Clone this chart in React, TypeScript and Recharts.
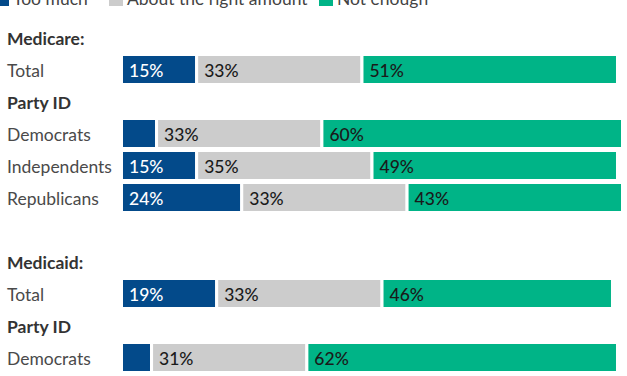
import React from 'react';
import { BarChart, Bar, XAxis, YAxis, LabelList } from 'recharts';

// rows top to bottom; header rows and the spacer row carry no bars
const rowLabels = ['Medicare:', 'Total', 'Party ID', 'Democrats', 'Independents', 'Republicans', '', 'Medicaid:', 'Total', 'Party ID', 'Democrats', 'Independents'];
const rowIsHeader = [true, false, true, false, false, false, false, true, false, true, false, false];

const tooMuch = [null, 15, null, 7, 15, 24, null, null, 19, null, 6, 19];
const aboutRight = [null, 33, null, 33, 35, 33, null, null, 33, null, 31, 37];
const notEnough = [null, 51, null, 60, 49, 43, null, null, 46, null, 62, 42];

const seriesNames = ['Too much', 'About the right amount', 'Not enough'];
const colors = ['#034a8a', '#cccccc', '#00b487'];

const data = rowLabels.map((label, i) => ({
  id: String(i),
  label,
  tooMuch: tooMuch[i],
  aboutRight: aboutRight[i],
  notEnough: notEnough[i],
}));

const FONT = 'Lato, "Open Sans", sans-serif';

const RowTick = (props: any) => {
  const { y, payload } = props;
  const i = Number(payload.value);
  const header = rowIsHeader[i];
  return (
    <text
      x={7}
      y={y}
      dy={1}
      dominantBaseline="central"
      textAnchor="start"
      fontFamily={FONT}
      fontSize={17.5}
      fontWeight={header ? 700 : 400}
      fill={header ? '#333' : '#4a4a4a'}
    >
      {rowLabels[i]}
    </text>
  );
};

const makeLabel = (color: string) => (props: any) => {
  const { x, y, height, value } = props;
  if (value == null || value < 10) return null;
  return (
    <text
      x={x + 7.5}
      y={y + height / 2}
      dy={1}
      dominantBaseline="central"
      fontFamily={FONT}
      fontSize={17.5}
      fontWeight={500}
      fill={color}
    >
      {value}%
    </text>
  );
};

const legendPos = [
  { sq: -5, tx: 13 },
  { sq: 109, tx: 127 },
  { sq: 319, tx: 337 },
];

function TopLegend() {
  return (
    <svg width={627} height={20} style={{ position: 'absolute', left: 0, top: 0 }}>
      {seriesNames.map((name, i) => (
        <g key={name}>
          <rect x={legendPos[i].sq} y={-8} width={14} height={14} fill={colors[i]} />
          <text x={legendPos[i].tx} y={5} fontFamily={FONT} fontSize={17.5} fill="#444">
            {name}
          </text>
        </g>
      ))}
    </svg>
  );
}

export default function App() {
  return (
    <div
      style={{
        position: 'absolute',
        left: 0,
        top: 0,
        width: 627,
        height: 376,
        overflow: 'hidden',
        background: '#fff',
      }}
    >
      <TopLegend />
      <div style={{ position: 'absolute', left: 0, top: 0 }}>
        <BarChart
          layout="vertical"
          width={627}
          height={406}
          data={data}
          margin={{ top: 21.5, right: 4.5, bottom: 0.5, left: 0 }}
          barSize={30}
        >
          <XAxis type="number" domain={[0, 100]} hide />
          <YAxis
            type="category"
            dataKey="id"
            width={121.5}
            axisLine={false}
            tickLine={false}
            tick={<RowTick />}
            interval={0}
          />
          <Bar dataKey="tooMuch" stackId="a" fill={colors[0]} stroke="#fff" strokeWidth={3} isAnimationActive={false}>
            <LabelList dataKey="tooMuch" content={makeLabel('#fff')} />
          </Bar>
          <Bar dataKey="aboutRight" stackId="a" fill={colors[1]} stroke="#fff" strokeWidth={3} isAnimationActive={false}>
            <LabelList dataKey="aboutRight" content={makeLabel('#1a1a1a')} />
          </Bar>
          <Bar dataKey="notEnough" stackId="a" fill={colors[2]} stroke="#fff" strokeWidth={3} isAnimationActive={false}>
            <LabelList dataKey="notEnough" content={makeLabel('#1a1a1a')} />
          </Bar>
        </BarChart>
      </div>
    </div>
  );
}
